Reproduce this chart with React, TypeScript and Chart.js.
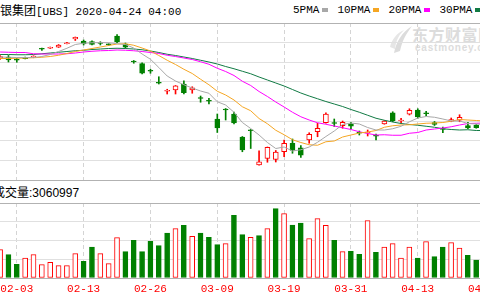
import React, { useEffect, useRef } from 'react';
import { Chart, registerables } from 'chart.js';

Chart.register(...registerables);

// ---- data ----
const dates = [
  '01-30', '01-31', '02-03', '02-04', '02-05', '02-06', '02-07', '02-10', '02-11', '02-12',
  '02-13', '02-14', '02-18', '02-19', '02-20', '02-21', '02-24', '02-25', '02-26', '02-27',
  '02-28', '03-02', '03-03', '03-04', '03-05', '03-06', '03-09', '03-10', '03-11', '03-12',
  '03-13', '03-16', '03-17', '03-18', '03-19', '03-20', '03-23', '03-24', '03-25', '03-26',
  '03-27', '03-30', '03-31', '04-01', '04-02', '04-03', '04-06', '04-07', '04-08', '04-09',
  '04-13', '04-14', '04-15', '04-16', '04-17', '04-20', '04-21', '04-22', '04-23',
];
const tickDates = ['02-03', '02-13', '02-26', '03-09', '03-19', '03-31', '04-13', '04-23'];

const opens = [
  12.18, 12.24, 12.13, 12.23, 12.24, 12.57, 12.59, 12.63, 12.77, 12.96,
  12.88, 12.86, 12.81, 12.75, 13.08, 12.76, 12.06, 11.98, 11.69, 11.22,
  10.87, 10.92, 11.16, 10.92, 10.60, 10.49, 9.76, 10.16, 9.96, 9.04,
  9.31, 7.92, 8.18, 8.14, 8.45, 8.79, 8.61, 8.92, 9.25, 9.61,
  9.60, 9.49, 9.57, 9.21, 9.20, 9.09, 9.56, 10.01, 9.68, 9.95,
  10.12, 9.99, 9.62, 9.36, 9.67, 9.71, 9.50, 9.52, null,
];
const highs = [
  12.30, 12.30, 12.19, 12.24, 12.29, 12.60, 12.64, 12.74, 12.83, 13.04,
  12.92, 12.89, 12.85, 12.77, 13.14, 12.80, 12.10, 12.01, 11.75, 11.45,
  10.95, 11.10, 11.29, 11.05, 10.68, 10.59, 9.96, 10.18, 10.04, 9.06,
  9.34, 8.49, 8.64, 8.50, 8.92, 8.96, 8.70, 9.21, 9.59, 10.01,
  9.76, 9.68, 9.63, 9.28, 9.32, 9.16, 9.70, 10.05, 9.79, 10.17,
  10.17, 10.07, 9.66, 9.44, 9.80, 9.93, 9.63, 9.54, null,
];
const lows = [
  12.14, 12.04, 12.03, 12.16, 12.21, 12.50, 12.58, 12.62, 12.76, 12.90,
  12.72, 12.72, 12.72, 12.70, 12.81, 12.59, 11.99, 11.56, 11.59, 11.16,
  10.76, 10.76, 10.76, 10.79, 10.43, 10.36, 9.22, 9.72, 9.56, 8.45,
  8.58, 7.91, 8.03, 8.04, 8.25, 8.39, 8.22, 8.79, 9.05, 9.59,
  9.46, 9.39, 9.37, 9.12, 9.08, 8.92, 9.55, 9.65, 9.59, 9.92,
  9.79, 9.89, 9.50, 9.21, 9.65, 9.65, 9.37, 9.39, null,
];
const closes = [
  12.26, 12.12, 12.11, 12.17, 12.26, 12.55, 12.62, 12.72, 12.81, 13.03,
  12.76, 12.74, 12.78, 12.73, 12.84, 12.63, 12.04, 11.59, 11.67, 11.19,
  10.89, 11.09, 10.81, 11.01, 10.58, 10.47, 9.40, 10.12, 9.60, 8.52,
  9.29, 8.05, 8.63, 8.44, 8.79, 8.50, 8.31, 9.15, 9.39, 9.96,
  9.58, 9.63, 9.47, 9.19, 9.22, 9.07, 9.68, 9.69, 9.70, 10.11,
  9.84, 9.97, 9.54, 9.34, 9.74, 9.83, 9.40, 9.41, null,
];

const volumes = [
  6060000, 4990000, 2920000, 4270000, 4990000, 2860000, 3350000, 2650000, 2650000, 5210000,
  3560000, 6610000, 5210000, 3070000, 8620000, 5630000, 8040000, 5630000, 7830000, 6910000,
  9600000, 10540000, 11240000, 8900000, 9600000, 8680000, 7130000, 7340000, 13380000, 9260000,
  8680000, 9050000, 10540000, 14810000, 13740000, 11310000, 11730000, 8410000, 12670000, 11240000,
  8040000, 5630000, 5700000, 5060000, 12250000, 5480000, 6610000, 7340000, 4270000, 6610000,
  4270000, 7770000, 4570000, 6610000, 7550000, 6400000, 4840000, 3840000, 3060997,
];
// 1 = up day (red hollow volume bar), 0 = down day (green)
const volumeUp = [
  1, 0, 0, 1, 1, 1, 1, 1, 1, 1,
  0, 0, 1, 1, 1, 0, 0, 0, 0, 0,
  0, 1, 0, 1, 0, 0, 0, 1, 0, 0,
  1, 0, 1, 0, 1, 0, 0, 1, 1, 1,
  0, 1, 0, 0, 1, 0, 1, 1, 1, 1,
  0, 1, 0, 0, 1, 1, 0, 0, 0,
];

const ma5 = [
  12.24, 12.23, 12.22, 12.22, 12.22, 12.26, 12.34, 12.46, 12.59, 12.74,
  12.79, 12.81, 12.82, 12.81, 12.77, 12.74, 12.60, 12.36, 12.15, 11.82,
  11.48, 11.28, 11.13, 11.00, 10.88, 10.79, 10.45, 10.32, 10.03, 9.62,
  9.38, 9.12, 8.82, 8.58, 8.64, 8.48, 8.53, 8.64, 8.83, 9.06,
  9.28, 9.54, 9.60, 9.56, 9.42, 9.32, 9.32, 9.37, 9.47, 9.65,
  9.80, 9.86, 9.83, 9.76, 9.68, 9.68, 9.58, 9.56, 9.54,
];
const ma10 = [
  12.18, 12.18, 12.19, 12.20, 12.21, 12.23, 12.26, 12.31, 12.38, 12.46,
  12.52, 12.58, 12.64, 12.70, 12.76, 12.77, 12.71, 12.60, 12.48, 12.30,
  12.11, 11.94, 11.75, 11.58, 11.35, 11.13, 10.87, 10.72, 10.52, 10.25,
  10.09, 9.78, 9.57, 9.31, 9.13, 8.93, 8.82, 8.73, 8.71, 8.85,
  8.88, 9.04, 9.12, 9.20, 9.24, 9.30, 9.43, 9.49, 9.52, 9.53,
  9.56, 9.59, 9.60, 9.62, 9.67, 9.74, 9.72, 9.70, 9.68,
];
const ma20 = [
  12.44, 12.43, 12.42, 12.42, 12.37, 12.36, 12.36, 12.36, 12.37, 12.40,
  12.44, 12.47, 12.49, 12.50, 12.52, 12.51, 12.49, 12.46, 12.42, 12.38,
  12.31, 12.26, 12.20, 12.14, 12.05, 11.95, 11.79, 11.66, 11.50, 11.27,
  11.10, 10.86, 10.66, 10.44, 10.24, 10.03, 9.85, 9.72, 9.61, 9.55,
  9.48, 9.41, 9.34, 9.25, 9.18, 9.12, 9.13, 9.11, 9.11, 9.19,
  9.22, 9.32, 9.36, 9.40, 9.45, 9.52, 9.58, 9.59, 9.60,
];
const ma30 = [
  12.34, 12.34, 12.33, 12.33, 12.34, 12.37, 12.40, 12.43, 12.46, 12.49,
  12.51, 12.54, 12.56, 12.58, 12.59, 12.58, 12.56, 12.53, 12.48, 12.42,
  12.35, 12.30, 12.24, 12.18, 12.11, 12.04, 11.96, 11.86, 11.77, 11.67,
  11.57, 11.44, 11.32, 11.20, 11.08, 10.94, 10.80, 10.68, 10.57, 10.46,
  10.36, 10.26, 10.14, 10.03, 9.91, 9.79, 9.71, 9.64, 9.58, 9.54,
  9.51, 9.47, 9.43, 9.37, 9.34, 9.32, 9.33, 9.30, 9.30,
];
const maNames = ['5PMA', '10PMA', '20PMA', '30PMA'];
const maColors = ['#a8a8a8', '#f5a623', '#ff00ff', '#117a44'];

const priceGrid = [7.32, 8.105, 8.89, 9.675, 10.46, 11.245, 12.03, 12.815, 13.6];
const volumeGrid = [0, 4000000, 8000000, 12000000, 16000000];

// ---- styles ----
const RED = '#ff0000';
const GREEN = '#008000';
const X_MIN = -3.0046;
const X_MAX = 60.439;
const CJK = '"Noto Sans CJK SC", sans-serif';
const MONO = '"Liberation Mono", monospace';
const SANS = '"Liberation Sans", Arial, sans-serif';
const WATERMARK = '#dcdcdc';

export default function App() {
  const priceRef = useRef<HTMLCanvasElement | null>(null);
  const volRef = useRef<HTMLCanvasElement | null>(null);

  useEffect(() => {
    const tickIdx = tickDates.map((d) => dates.indexOf(d));
    const candleIdx = dates.map((_, i) => i).filter((i) => opens[i] !== null);
    const isUp = (i: number) => (closes[i] as number) >= (opens[i] as number);

    const xAxis = (labels: boolean): any => ({
      type: 'linear',
      min: X_MIN,
      max: X_MAX,
      offset: false,
      bounds: 'data',
      afterBuildTicks: (s: any) => {
        s.ticks = tickIdx.map((v) => ({ value: v }));
      },
      afterFit: (s: any) => {
        s.height = labels ? 22 : 0;
      },
      grid: { color: '#d4d4d4', drawTicks: false, offset: false, lineWidth: 1 },
      border: { display: false, dash: [4, 3] },
      ticks: {
        display: labels,
        autoSkip: false,
        maxRotation: 0,
        minRotation: 0,
        padding: 4,
        color: RED,
        font: { family: MONO, size: 11 },
        callback: (v: any) => dates[v as number] ?? '',
      },
    });
    const yAxis = (grid: number[]): any => {
      const min = grid[0];
      const max = grid[grid.length - 1];
      return {
        type: 'linear',
        min,
        max,
        bounds: 'data',
        afterBuildTicks: (s: any) => {
          s.ticks = grid.map((v) => ({ value: v }));
        },
        afterFit: (s: any) => {
          s.width = 0;
        },
        ticks: { display: false },
        grid: {
          drawTicks: false,
          lineWidth: 1,
          color: (ctx: any) =>
            ctx.tick && (ctx.tick.value === min || ctx.tick.value === max) ? '#b2b2b2' : '#e0e0e0',
        },
        border: { display: false },
      };
    };
    const base: any = {
      animation: false,
      responsive: false,
      devicePixelRatio: 1,
      events: [],
      plugins: { legend: { display: false }, tooltip: { enabled: false }, title: { display: false } },
    };

    const maSeries = [ma5, ma10, ma20, ma30];
    const priceChart = new Chart(priceRef.current as HTMLCanvasElement, {
      type: 'bar',
      data: {
        datasets: [
          ...maSeries.map((vals, j) => ({
            type: 'line',
            label: maNames[j],
            data: vals.map((v, i) => ({ x: i, y: v })),
            borderColor: maColors[j],
            borderWidth: 1,
            pointRadius: 0,
            fill: false,
            tension: 0,
            order: 0,
          })),
          {
            type: 'bar',
            label: 'body',
            data: candleIdx.map((i) => ({ x: i, y: [opens[i], closes[i]] })),
            backgroundColor: candleIdx.map((i) => (isUp(i) ? '#ffffff' : GREEN)),
            borderColor: candleIdx.map((i) => (isUp(i) ? RED : GREEN)),
            borderWidth: 1,
            borderSkipped: false,
            barThickness: 5,
            minBarLength: 1,
            grouped: false,
            order: 1,
          },
          {
            type: 'bar',
            label: 'wick',
            data: candleIdx.map((i) => ({ x: i, y: [lows[i], highs[i]] })),
            backgroundColor: candleIdx.map((i) => (isUp(i) ? RED : GREEN)),
            borderWidth: 0,
            barThickness: 1,
            grouped: false,
            order: 2,
          },
        ] as any,
      },
      options: {
        ...base,
        layout: { padding: { top: 23, bottom: 1, left: 0, right: 0 } },
        scales: { x: xAxis(false), y: yAxis(priceGrid) },
      },
    });

    const volChart = new Chart(volRef.current as HTMLCanvasElement, {
      type: 'bar',
      data: {
        datasets: [
          {
            label: '成交量',
            data: volumes.map((v, i) => ({ x: i, y: v })),
            backgroundColor: volumeUp.map((u) => (u ? '#ffffff' : GREEN)),
            borderColor: volumeUp.map((u) => (u ? RED : GREEN)),
            borderWidth: 1,
            borderSkipped: false,
            barThickness: 5,
            grouped: false,
          },
        ] as any,
      },
      options: {
        ...base,
        layout: { padding: { top: 21, bottom: 0, left: 0, right: 0 } },
        scales: { x: xAxis(true), y: yAxis(volumeGrid) },
      },
    });

    return () => {
      priceChart.destroy();
      volChart.destroy();
    };
  }, []);

  return (
    <div
      style={{
        position: 'fixed',
        left: 0,
        top: 0,
        width: 480,
        height: 300,
        overflow: 'hidden',
        background: '#ffffff',
        color: '#000',
      }}
    >
      <svg
        width={24}
        height={30}
        viewBox="0 0 24 30"
        style={{ position: 'absolute', left: 389, top: 24 }}
      >
        <path d="M5 29 C 7 18, 13 8, 23 2 C 17 10, 13 17, 11 27 Z" fill={WATERMARK} />
        <path d="M1 23 C 3 15, 8 9, 15 6 C 10 11, 7 16, 6 25 Z" fill="#e6e6e6" />
      </svg>
      <div
        style={{
          position: 'absolute',
          left: 412,
          top: 24,
          fontFamily: CJK,
          fontWeight: 700,
          fontSize: 16,
          lineHeight: '20px',
          color: WATERMARK,
          whiteSpace: 'nowrap',
          letterSpacing: 0.5,
        }}
      >
        东方财富网
      </div>
      <div
        style={{
          position: 'absolute',
          left: 415,
          top: 42,
          fontFamily: SANS,
          fontWeight: 700,
          fontSize: 10,
          lineHeight: '12px',
          color: WATERMARK,
          letterSpacing: 0.8,
          whiteSpace: 'nowrap',
        }}
      >
        eastmoney.com
      </div>

      <div
        style={{
          position: 'absolute',
          left: -12,
          top: 3,
          height: 14,
          lineHeight: '14px',
          whiteSpace: 'nowrap',
        }}
      >
        <span style={{ fontFamily: CJK, fontSize: 12 }}>瑞银集团</span>
        <span style={{ fontFamily: MONO, fontSize: 11 }}>[UBS] 2020-04-24 04:00</span>
      </div>

      <div
        style={{
          position: 'absolute',
          left: 293,
          top: 3,
          height: 14,
          display: 'flex',
          alignItems: 'center',
          whiteSpace: 'nowrap',
        }}
      >
        {maNames.map((n, i) => (
          <div key={n} style={{ display: 'flex', alignItems: 'center', marginRight: 9 }}>
            <span style={{ fontFamily: MONO, fontSize: 11, lineHeight: '14px' }}>{n}</span>
            <span
              style={{
                display: 'inline-block',
                width: 6,
                height: 4,
                marginLeft: 3,
                background: maColors[i],
              }}
            />
          </div>
        ))}
      </div>

      <div
        style={{
          position: 'absolute',
          left: -7,
          top: 185,
          height: 14,
          lineHeight: '14px',
          whiteSpace: 'nowrap',
        }}
      >
        <span style={{ fontFamily: CJK, fontSize: 12 }}>成交量</span>
        <span style={{ fontFamily: SANS, fontSize: 12 }}>:{volumes[volumes.length - 1]}</span>
      </div>

      <canvas
        ref={priceRef}
        width={530}
        height={181}
        style={{ position: 'absolute', left: -25, top: 0, width: 530, height: 181 }}
      />
      <canvas
        ref={volRef}
        width={530}
        height={118}
        style={{ position: 'absolute', left: -25, top: 182, width: 530, height: 118 }}
      />
    </div>
  );
}
